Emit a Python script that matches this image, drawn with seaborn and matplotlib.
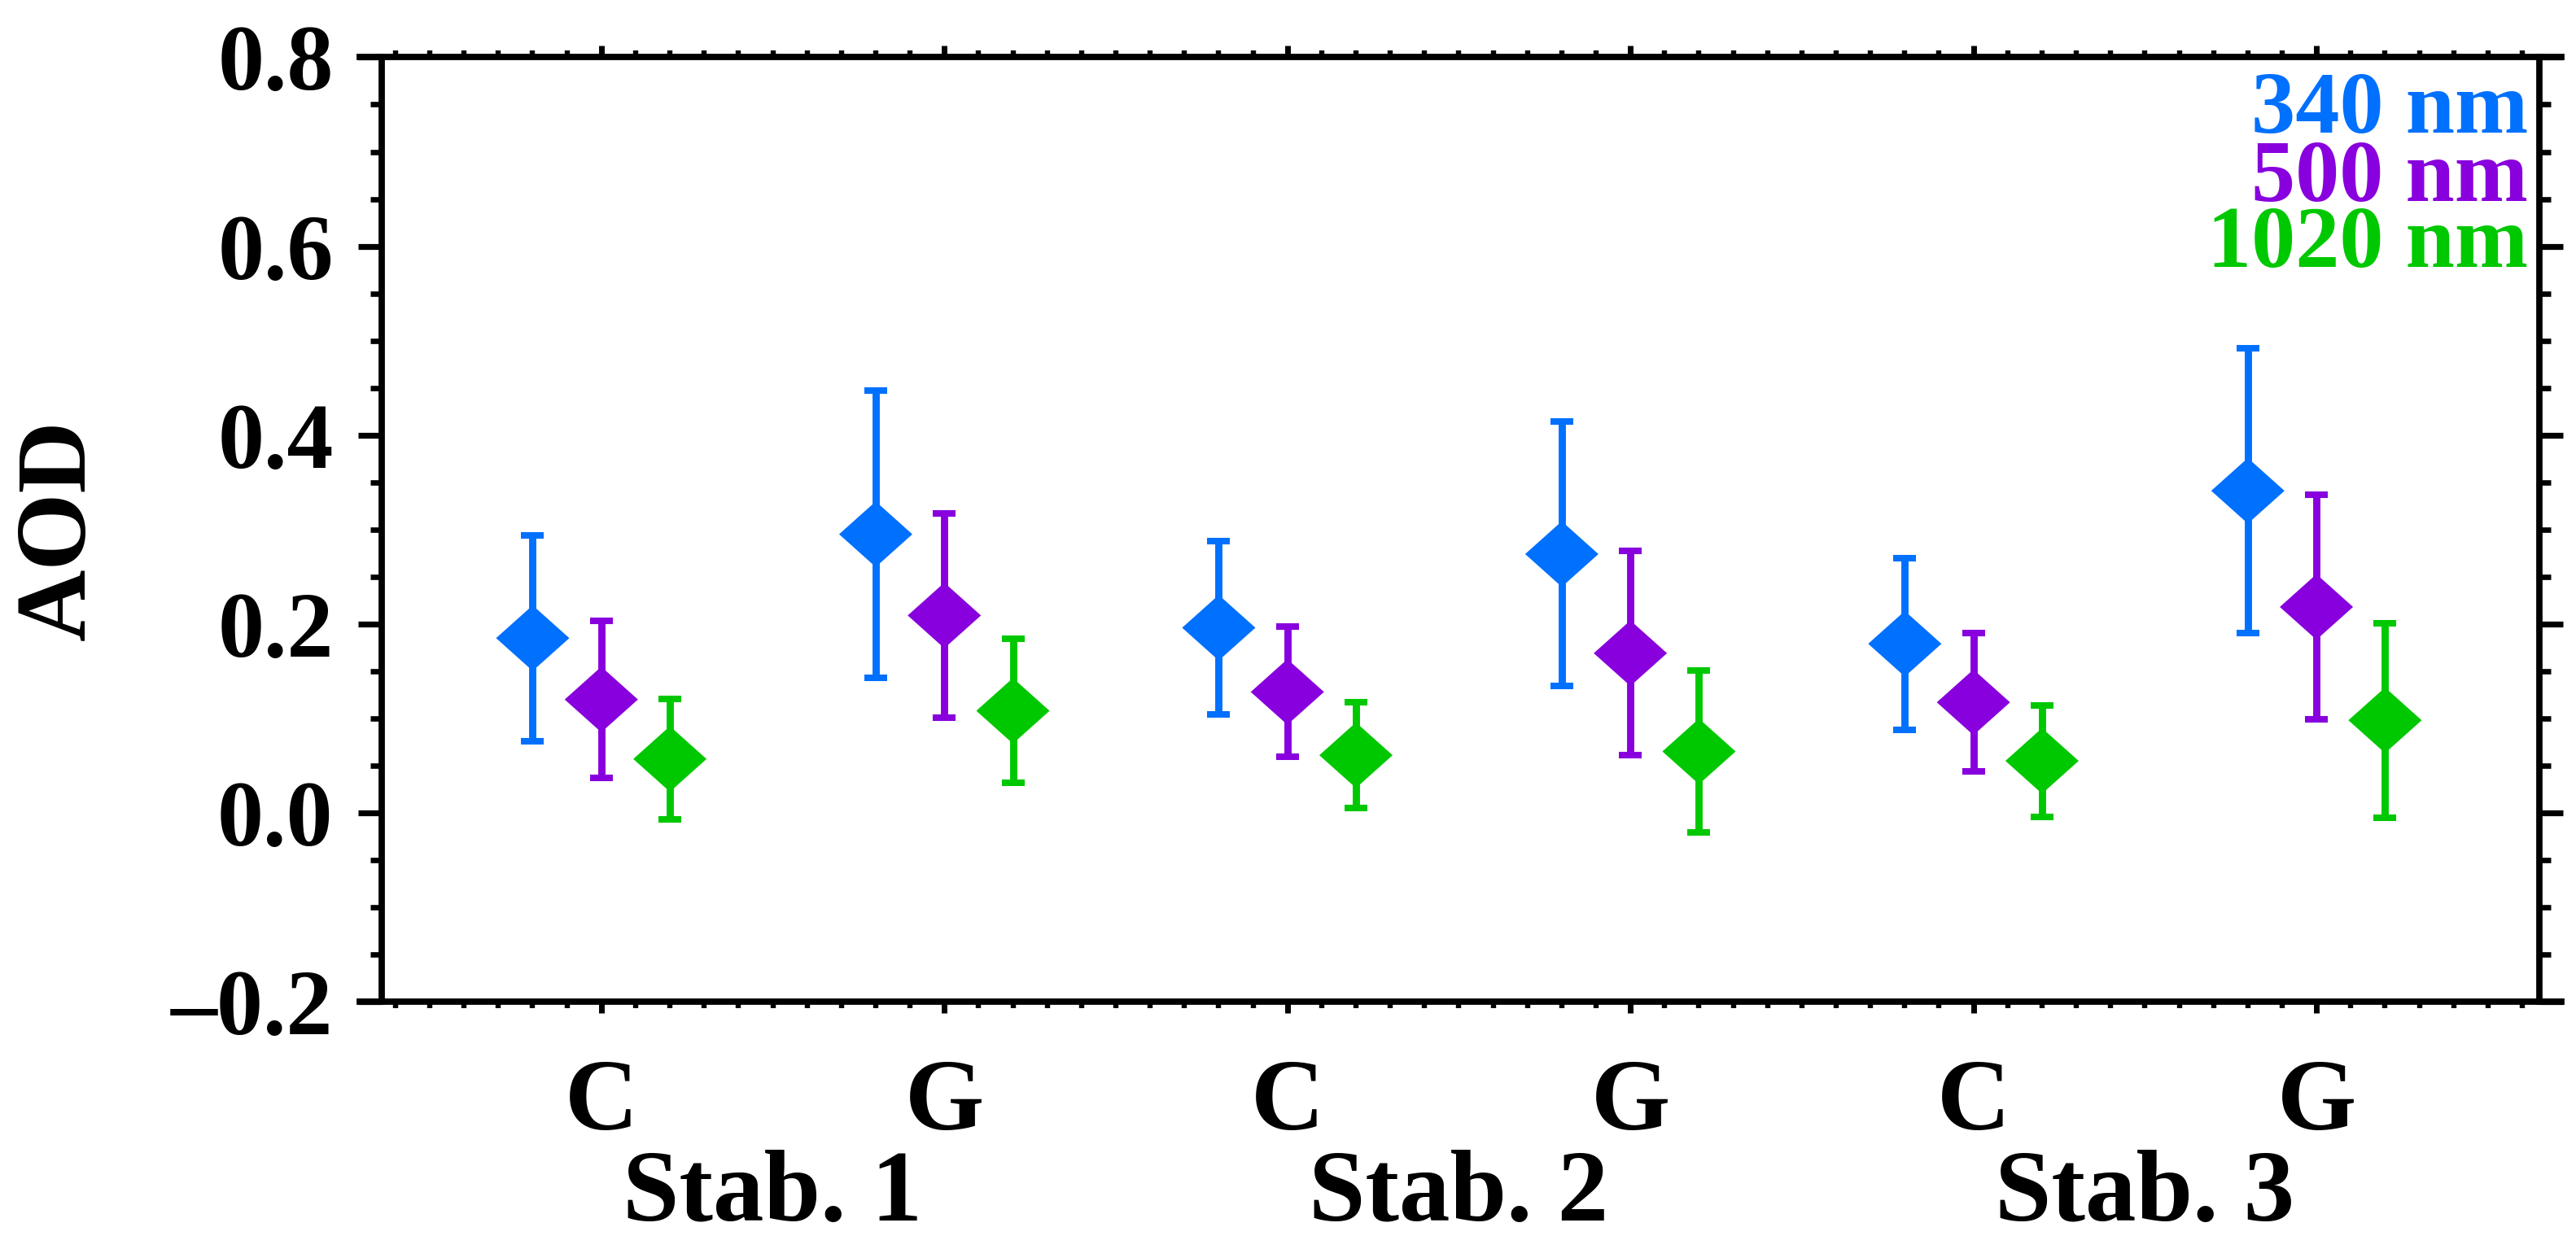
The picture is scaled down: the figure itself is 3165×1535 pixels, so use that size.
import numpy as np
import pandas as pd
import seaborn as sns
import matplotlib.pyplot as plt
from matplotlib.path import Path
from matplotlib.ticker import MultipleLocator
from matplotlib.transforms import blended_transform_factory

# valores
categorias = ['C', 'G', 'C', 'G', 'C', 'G']
estabilidade = ['Stab. 1', 'Stab. 2', 'Stab. 3']
comprimentos = ['340 nm', '500 nm', '1020 nm']
cores = ['#0070FF', '#8800DD', '#00C800']

aod_340 = [0.185, 0.295, 0.196, 0.274, 0.179, 0.341]
err_340 = [0.109, 0.152, 0.092, 0.140, 0.091, 0.151]
aod_500 = [0.120, 0.209, 0.128, 0.169, 0.117, 0.218]
err_500 = [0.083, 0.108, 0.069, 0.108, 0.073, 0.119]
aod_1020 = [0.057, 0.108, 0.061, 0.065, 0.055, 0.098]
err_1020 = [0.064, 0.076, 0.056, 0.086, 0.059, 0.103]

deslocamento = [-0.2, 0.0, 0.2]  # posicao de cada comprimento dentro do grupo

sns.set_style('ticks')
plt.rcParams['font.family'] = ['Liberation Serif', 'DejaVu Serif']
plt.rcParams['font.weight'] = 'bold'
# tudo em preto puro, como no original
for chave in ['text.color', 'axes.labelcolor', 'xtick.color', 'ytick.color', 'axes.edgecolor']:
    plt.rcParams[chave] = 'black'

# monta o dataframe longo
medias = [aod_340, aod_500, aod_1020]
erros = [err_340, err_500, err_1020]
linhas = []
for k, nome in enumerate(comprimentos):
    for i in range(len(categorias)):
        linhas.append({'x': i + deslocamento[k], 'AOD': medias[k][i],
                       'err': erros[k][i], 'wl': nome})
df = pd.DataFrame(linhas)

fig = plt.figure(figsize=(15.825, 7.675), dpi=200)
ax = fig.add_axes([0.1482, 0.198, 0.8376, 0.7561])

# barras de erro
for k, nome in enumerate(comprimentos):
    sub = df[df['wl'] == nome]
    ax.errorbar(sub['x'], sub['AOD'], yerr=sub['err'], fmt='none',
                ecolor=cores[k], elinewidth=3.2, capsize=4.9, capthick=2.9,
                zorder=2)

# losango um pouco mais largo que alto
losango = Path([(-1, 0), (0, 0.895), (1, 0), (0, -0.895), (-1, 0)],
               [Path.MOVETO, Path.LINETO, Path.LINETO, Path.LINETO, Path.CLOSEPOLY])
sns.scatterplot(data=df, x='x', y='AOD', hue='wl', hue_order=comprimentos,
                palette=dict(zip(comprimentos, cores)), marker=losango, s=1050,
                linewidth=0, edgecolor='none', legend=False, zorder=3, ax=ax)

xmin, xmax = -0.64, 5.65
ax.set_xlim(xmin, xmax)
ax.set_ylim(-0.2, 0.8)

ax.set_xticks(range(len(categorias)))
ax.set_xticklabels(categorias)
ax.xaxis.set_minor_locator(MultipleLocator(0.1))
ax.yaxis.set_major_locator(MultipleLocator(0.2))
ax.yaxis.set_minor_locator(MultipleLocator(0.05))
ax.yaxis.set_major_formatter(plt.FuncFormatter(lambda v, p: f'{v:.1f}'.replace('-', '\u2013')))

ax.tick_params(axis='x', which='major', direction='out', length=5, width=2.5,
               top=True, bottom=True, labelsize=45, pad=20)
ax.tick_params(axis='x', which='minor', direction='out', length=3, width=2.3,
               top=True, bottom=True)
ax.tick_params(axis='y', which='major', direction='out', length=10.4, width=2.6,
               left=True, right=True, labelsize=41, pad=11)
ax.tick_params(axis='y', which='minor', direction='out', length=5.2, width=2.4,
               left=True, right=True)
for lab in ax.get_xticklabels() + ax.get_yticklabels():
    lab.set_fontweight('bold')

for lado in ['left', 'right', 'top', 'bottom']:
    ax.spines[lado].set_linewidth(2.8)
    ax.spines[lado].set_visible(True)
# linhas horizontais passam um pouco das verticais
ax.spines['top'].set_bounds(xmin - 0.064, xmax + 0.064)
ax.spines['bottom'].set_bounds(xmin - 0.064, xmax + 0.064)

ax.set_xlabel('')
ax.set_ylabel('AOD', fontsize=44, fontweight='bold')
ax.yaxis.set_label_coords(-0.128, 0.5)

# nomes das estabilidades abaixo de cada par C/G
trans = blended_transform_factory(ax.transData, fig.transFigure)
for j, nome in enumerate(estabilidade):
    ax.text(2 * j + 0.5, 0.0228, nome, transform=trans, ha='center',
            va='baseline', fontsize=45, fontweight='bold')

# legenda em texto colorido
ybase = [0.9203, 0.8479, 0.7781]
for k, nome in enumerate(comprimentos):
    ax.text(0.9947, ybase[k], nome, transform=ax.transAxes, ha='right',
            va='baseline', color=cores[k], fontsize=39, fontweight='bold')

fig.savefig('out.png', dpi=200)
